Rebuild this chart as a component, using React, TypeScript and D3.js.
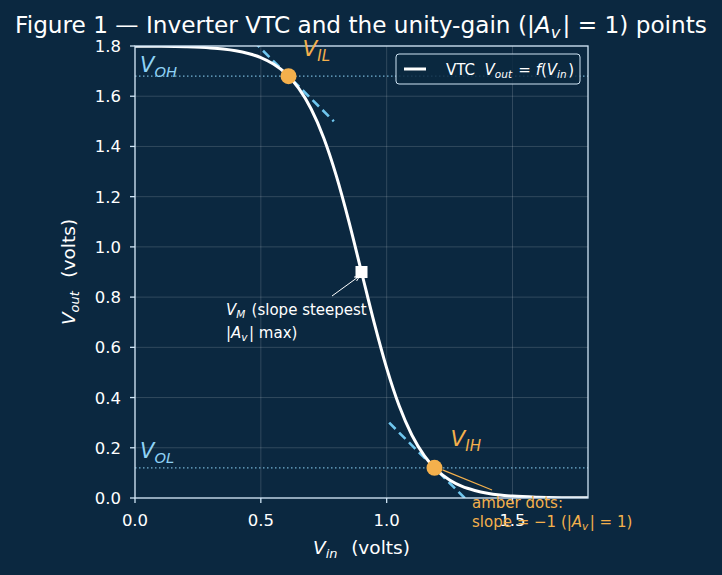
import React from 'react';
import * as d3 from 'd3';

// sampled inverter transfer characteristic (volts)
const VIN = [0, 0.1, 0.2, 0.3, 0.35, 0.4, 0.45, 0.5, 0.55, 0.6, 0.65, 0.7, 0.75, 0.8, 0.85, 0.9,
  0.95, 1.0, 1.05, 1.1, 1.15, 1.2, 1.25, 1.3, 1.35, 1.4, 1.45, 1.5, 1.6, 1.7, 1.8];
const VOUT = [1.7995, 1.7988, 1.7969, 1.7924, 1.788, 1.781, 1.770, 1.754, 1.728, 1.690, 1.632, 1.549,
  1.434, 1.283, 1.101, 0.9, 0.699, 0.517, 0.366, 0.251, 0.168, 0.110, 0.072, 0.046, 0.030, 0.019,
  0.012, 0.0076, 0.0031, 0.0012, 0.0005];

const X_TICKS = [0, 0.5, 1.0, 1.5];
const Y_TICKS = [0, 0.2, 0.4, 0.6, 0.8, 1.0, 1.2, 1.4, 1.6, 1.8];

// unity-gain points (slope = -1)
const UNITY_NAMES = ['IL', 'IH'];
const UNITY_VIN = [0.61, 1.19];
const UNITY_VOUT = [1.68, 0.12];
const TANGENT_HALF = 0.18;

const VM_VIN = 0.9;
const VM_VOUT = 0.9;
const VOH = 1.68;
const VOL = 0.12;

const W = 722;
const H = 575;
const M = { top: 46, right: 134, bottom: 77, left: 135 };

const BG = '#0b2840';
const AXIS = '#cfe4f4';
const AMBER = '#f4b04c';
const CYAN = '#6fc6ee';
const LBLUE = '#8fd3f6';
const FONT = '"DejaVu Sans", sans-serif';

// italic symbol with a lowered subscript, mathtext style
const Sub: React.FC<{ base: string; sub: string; size: number }> = ({ base, sub, size }) => (
  <>
    <tspan fontStyle="italic">{base}</tspan>
    <tspan fontStyle="italic" fontSize={size * 0.7} dy={size * 0.22}>{sub}</tspan>
    <tspan dy={-size * 0.22}>{'\u200a'}</tspan>
  </>
);

const Av: React.FC<{ size: number }> = ({ size }) => (
  <>
    <tspan fontStyle="italic">A</tspan>
    <tspan fontStyle="italic" fontSize={size * 0.7} dy={size * 0.22}>v</tspan>
    <tspan dy={-size * 0.22}>{'\u200a'}</tspan>
  </>
);

const App: React.FC = () => {
  const x = d3.scaleLinear().domain([0, 1.8]).range([M.left, W - M.right]);
  const y = d3.scaleLinear().domain([0, 1.8]).range([H - M.bottom, M.top]);
  const pts: [number, number][] = VIN.map((v, i) => [v, VOUT[i]]);
  const line = d3.line<[number, number]>().x(d => x(d[0])).y(d => y(d[1])).curve(d3.curveMonotoneX);

  const x0 = M.left, x1 = W - M.right, y0 = H - M.bottom, y1 = M.top;

  return (
    <svg width={W} height={H} style={{ position: 'absolute', left: 0, top: 0, background: BG }} fontFamily={FONT}>
      <rect width={W} height={H} fill={BG} />
      <defs>
        <clipPath id="plot">
          <rect x={x0} y={y1} width={x1 - x0} height={y0 - y1} />
        </clipPath>
        <marker id="arrW" viewBox="0 0 10 10" refX="9" refY="5" markerWidth="6" markerHeight="6" orient="auto">
          <path d="M0,1 L10,5 L0,9" fill="none" stroke="white" strokeWidth="1.5" />
        </marker>
      </defs>

      <text x={W / 2} y={33} fill="white" fontSize={23.2} textAnchor="middle">
        Figure 1 — Inverter VTC and the unity-gain (|<Av size={23.2} />| = 1) points
      </text>

      {/* grid */}
      {X_TICKS.map(t => (
        <line key={'gx' + t} x1={x(t)} x2={x(t)} y1={y0} y2={y1} stroke="white" strokeOpacity={0.2} strokeWidth={0.8} />
      ))}
      {Y_TICKS.map(t => (
        <line key={'gy' + t} x1={x0} x2={x1} y1={y(t)} y2={y(t)} stroke="white" strokeOpacity={0.2} strokeWidth={0.8} />
      ))}

      {/* VOH / VOL levels */}
      {[VOH, VOL].map(v => (
        <line key={'lv' + v} x1={x0} x2={x1} y1={y(v)} y2={y(v)} stroke={LBLUE} strokeOpacity={0.8} strokeWidth={1.2} strokeDasharray="1.5,2.5" />
      ))}

      <g clipPath="url(#plot)">
        {UNITY_VIN.map((v, i) => {
          const a = v - TANGENT_HALF, b = v + TANGENT_HALF;
          return (
            <line key={'tg' + i} x1={x(a)} y1={y(UNITY_VOUT[i] - (a - v))} x2={x(b)} y2={y(UNITY_VOUT[i] - (b - v))}
              stroke={CYAN} strokeWidth={2.6} strokeDasharray="9,5" />
          );
        })}
        <path d={line(pts) || ''} fill="none" stroke="white" strokeWidth={3} />
      </g>

      {UNITY_VIN.map((v, i) => (
        <circle key={'pt' + i} cx={x(v)} cy={y(UNITY_VOUT[i])} r={8} fill={AMBER} />
      ))}
      <rect x={x(VM_VIN) - 6} y={y(VM_VOUT) - 6} width={12} height={12} fill="white" />

      {/* spines and ticks */}
      <rect x={x0} y={y1} width={x1 - x0} height={y0 - y1} fill="none" stroke={AXIS} strokeWidth={1.3} />
      {X_TICKS.map(t => (
        <g key={'xt' + t}>
          <line x1={x(t)} x2={x(t)} y1={y0} y2={y0 + 5} stroke={AXIS} strokeWidth={1.3} />
          <text x={x(t)} y={y0 + 28} fill="white" fontSize={16.5} textAnchor="middle">{t.toFixed(1)}</text>
        </g>
      ))}
      {Y_TICKS.map(t => (
        <g key={'yt' + t}>
          <line x1={x0 - 5} x2={x0} y1={y(t)} y2={y(t)} stroke={AXIS} strokeWidth={1.3} />
          <text x={x0 - 14} y={y(t) + 6} fill="white" fontSize={16.5} textAnchor="end">{t.toFixed(1)}</text>
        </g>
      ))}

      <text x={(x0 + x1) / 2} y={554} fill="white" fontSize={18.5} textAnchor="middle">
        <Sub base="V" sub="in" size={18.5} />{'\u00a0\u00a0'}(volts)
      </text>
      <text transform={`translate(75,${(y0 + y1) / 2}) rotate(-90)`} fill="white" fontSize={18.5} textAnchor="middle">
        <Sub base="V" sub="out" size={18.5} />{'\u00a0\u00a0'}(volts)
      </text>

      {/* level and point labels */}
      <text x={x0 + 5} y={72} fill={LBLUE} fontSize={21}><Sub base="V" sub="OH" size={21} /></text>
      <text x={x0 + 5} y={458} fill={LBLUE} fontSize={21}><Sub base="V" sub="OL" size={21} /></text>
      <text x={x(UNITY_VIN[0]) + 14} y={y(UNITY_VOUT[0]) - 20} fill={AMBER} fontSize={21.5}>
        <Sub base="V" sub={UNITY_NAMES[0]} size={21.5} />
      </text>
      <text x={x(UNITY_VIN[1]) + 16} y={y(UNITY_VOUT[1]) - 22} fill={AMBER} fontSize={21.5}>
        <Sub base="V" sub={UNITY_NAMES[1]} size={21.5} />
      </text>

      {/* VM note */}
      <line x1={332} y1={296} x2={x(VM_VIN) - 2} y2={y(VM_VOUT) + 4} stroke="white" strokeWidth={1} markerEnd="url(#arrW)" />
      <text x={226} y={315} fill="white" fontSize={15}>
        <Sub base="V" sub="M" size={15} /> (slope steepest
      </text>
      <text x={226} y={338} fill="white" fontSize={15}>
        |<Av size={15} />| max)
      </text>

      {/* amber note */}
      <line x1={492} y1={490} x2={x(UNITY_VIN[1]) + 8} y2={y(UNITY_VOUT[1]) + 2} stroke={AMBER} strokeWidth={1.2} />
      <text x={472} y={508} fill={AMBER} fontSize={15}>amber dots:</text>
      <text x={472} y={527} fill={AMBER} fontSize={15}>
        slope = −1 (|<Av size={15} />| = 1)
      </text>

      {/* legend */}
      <rect x={396} y={54} width={184} height={30} rx={3} fill={BG} fillOpacity={0.85} stroke={AXIS} strokeWidth={1} />
      <line x1={404} x2={426} y1={69} y2={69} stroke="white" strokeWidth={3} />
      <text x={446} y={75} fill="white" fontSize={15}>
        VTC{'\u00a0\u00a0'}<Sub base="V" sub="out" size={15} /> = <tspan fontStyle="italic">f</tspan>(<Sub base="V" sub="in" size={15} />)
      </text>
    </svg>
  );
};

export default App;
